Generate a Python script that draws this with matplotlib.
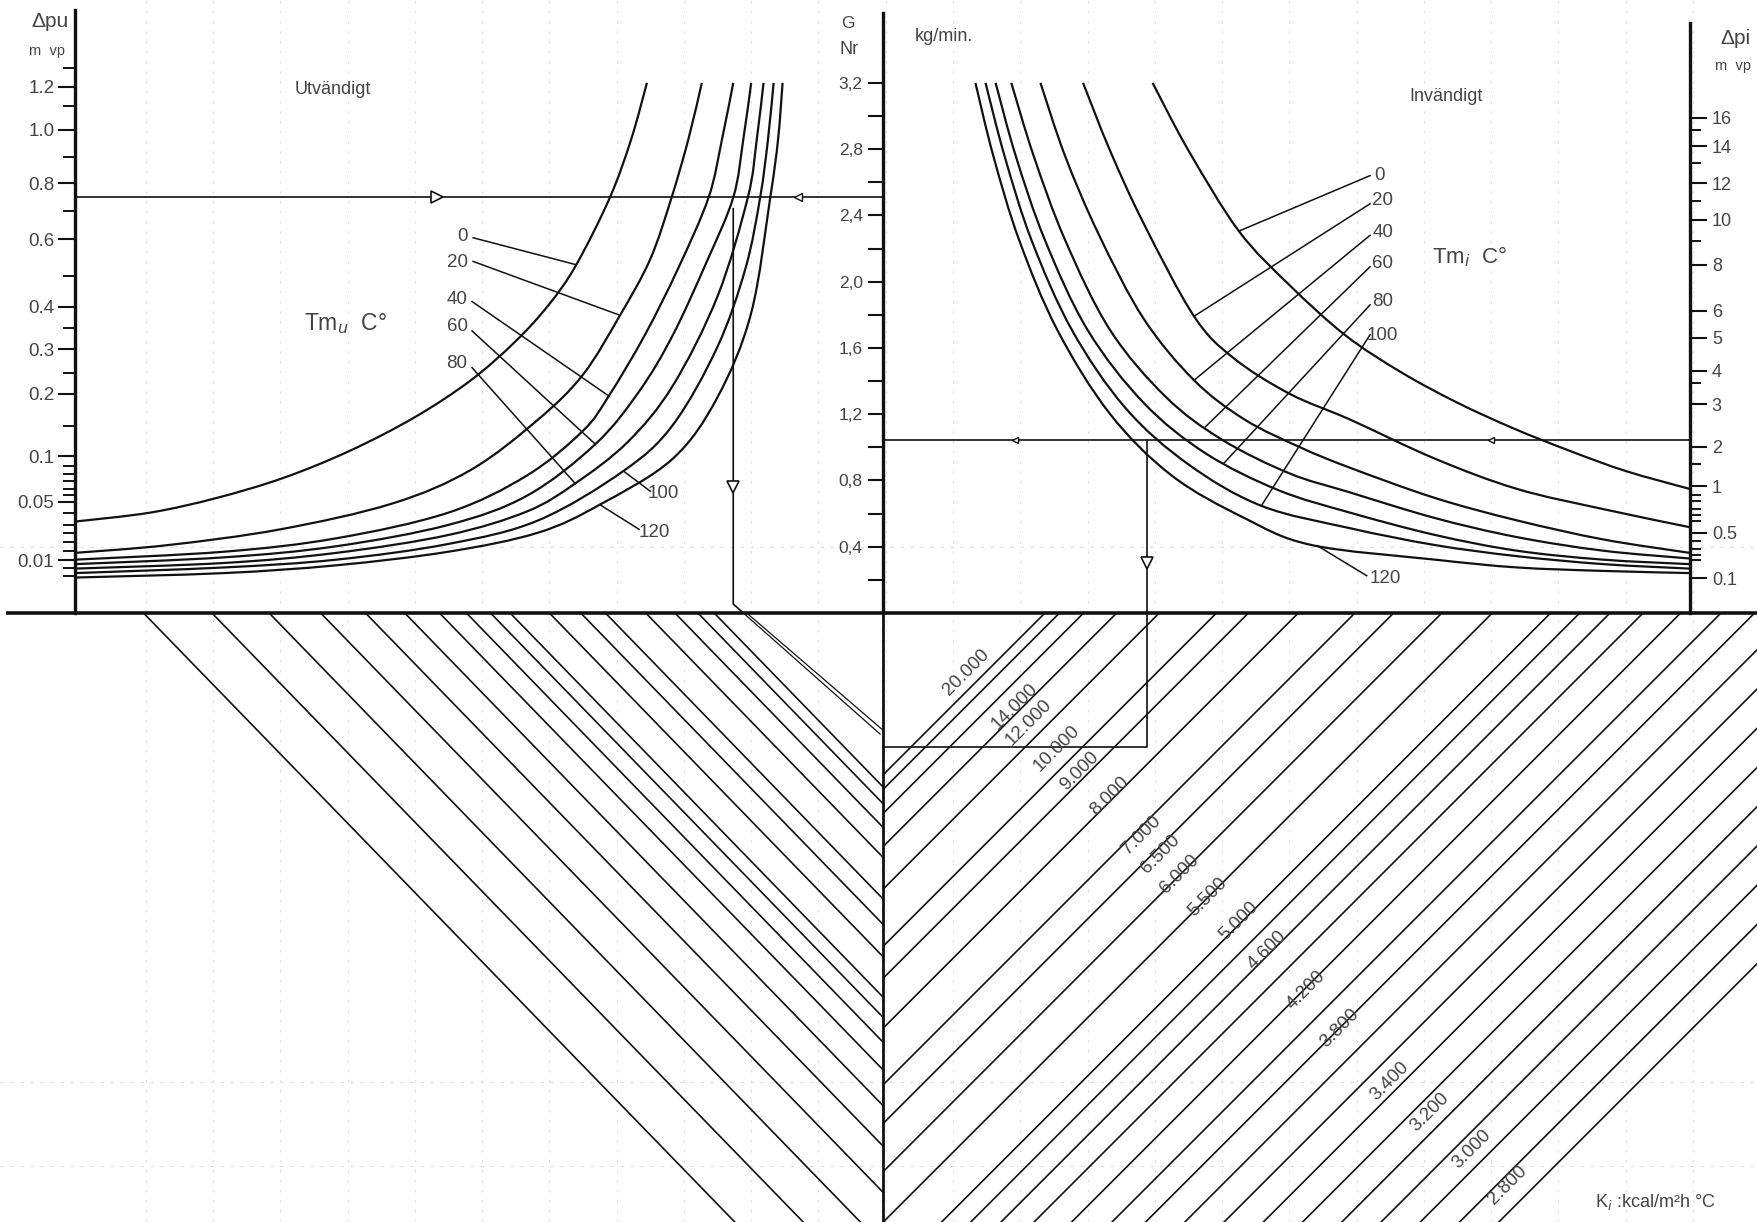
import numpy as np
import matplotlib
matplotlib.use("Agg")
import matplotlib.pyplot as plt
from matplotlib.path import Path
from matplotlib.patches import PathPatch
from matplotlib.ticker import FixedLocator, FixedFormatter, NullFormatter

plt.rcParams['font.family'] = ['Liberation Sans', 'DejaVu Sans']

# ---------------- data ----------------
# G axis (kg/min), linear
g_major = [0.4, 0.8, 1.2, 1.6, 2.0, 2.4, 2.8, 3.2]
g_major_labels = ['0,4', '0,8', '1,2', '1,6', '2,0', '2,4', '2,8', '3,2']
g_minor = [0.2, 0.6, 1.0, 1.4, 1.8, 2.2, 2.6, 3.0]

# Outer pressure drop scale (dpu, m vp) and the G level where each label sits
dpu_labels = ['1.2', '1.0', '0.8', '0.6', '0.4', '0.3', '0.2', '0.1', '0.05', '0.01']
dpu_at_g = [3.176, 2.918, 2.595, 2.257, 1.847, 1.593, 1.322, 0.947, 0.670, 0.317]
dpu_minor_at_g = [3.288, 3.061, 2.751, 2.429, 2.035, 1.72, 1.45, 1.129, 0.89, 0.842,
                  0.794, 0.747, 0.712, 0.604, 0.531, 0.484, 0.431, 0.377, 0.269, 0.221]

# Inner pressure drop scale (dpi, m vp)
dpi_labels = ['16', '14', '12', '10', '8', '6', '5', '4', '3', '2', '1', '0.5', '0.1']
dpi_at_g = [2.990, 2.818, 2.595, 2.374, 2.102, 1.823, 1.660, 1.462, 1.261, 1.002,
            0.766, 0.484, 0.211]
dpi_minor_at_g = [2.918, 2.716, 2.488, 2.245, 1.390, 0.902, 0.712, 0.676, 0.628, 0.591,
                  0.555, 0.436, 0.389, 0.352, 0.317]

# Outer curves Tm_u (C): abscissa and G
tmu = [0, 20, 40, 60, 80, 100, 120]
tmu_x = [
    [67, 134, 193, 253, 312, 370, 420, 460, 490, 514, 544, 563, 577],
    [67, 150, 250, 350, 420, 480, 520, 553, 580, 599, 614, 626],
    [67, 200, 300, 400, 470, 520, 543, 575, 605, 632, 644, 654],
    [67, 200, 300, 400, 470, 531, 570, 600, 630, 654, 663, 670],
    [67, 200, 300, 400, 470, 513, 560, 600, 640, 667, 675, 681],
    [67, 200, 300, 400, 480, 556, 600, 640, 665, 678, 685, 690],
    [67, 200, 300, 400, 480, 535, 600, 640, 670, 687, 694, 698],
]
tmu_g = [
    [0.552, 0.606, 0.694, 0.816, 0.979, 1.182, 1.405, 1.641, 1.865, 2.102, 2.508, 2.860, 3.2],
    [0.363, 0.410, 0.505, 0.661, 0.864, 1.168, 1.439, 1.797, 2.136, 2.508, 2.860, 3.2],
    [0.322, 0.370, 0.451, 0.606, 0.830, 1.100, 1.310, 1.676, 2.082, 2.508, 2.860, 3.2],
    [0.295, 0.336, 0.403, 0.532, 0.708, 1.019, 1.337, 1.676, 2.115, 2.508, 2.860, 3.2],
    [0.268, 0.302, 0.363, 0.471, 0.613, 0.782, 1.033, 1.371, 1.912, 2.508, 2.860, 3.2],
    [0.241, 0.275, 0.322, 0.417, 0.559, 0.857, 1.134, 1.608, 2.082, 2.508, 2.860, 3.2],
    [0.214, 0.241, 0.288, 0.370, 0.485, 0.654, 0.931, 1.303, 1.811, 2.508, 2.860, 3.2],
]

# Inner curves Tm_i (C)
tmi = [0, 20, 40, 60, 80, 100, 120]
tmi_x = [
    [1028, 1060, 1105, 1150, 1200, 1250, 1300, 1350, 1400, 1450, 1507],
    [966, 990, 1020, 1065, 1100, 1150, 1204, 1280, 1353, 1430, 1507],
    [928, 950, 980, 1020, 1065, 1110, 1160, 1204, 1280, 1353, 1430, 1507],
    [902, 922, 950, 990, 1040, 1090, 1150, 1204, 1280, 1353, 1430, 1507],
    [888, 906, 932, 970, 1020, 1075, 1140, 1204, 1280, 1353, 1430, 1507],
    [879, 896, 920, 956, 1004, 1060, 1125, 1204, 1280, 1353, 1430, 1507],
    [870, 886, 909, 943, 990, 1045, 1110, 1170, 1280, 1353, 1430, 1507],
]
tmi_g = [
    [3.2, 2.792, 2.305, 1.980, 1.676, 1.452, 1.269, 1.114, 0.979, 0.857, 0.749],
    [3.2, 2.792, 2.352, 1.791, 1.540, 1.324, 1.168, 0.931, 0.749, 0.627, 0.518],
    [3.2, 2.758, 2.285, 1.777, 1.405, 1.168, 0.999, 0.877, 0.694, 0.559, 0.444, 0.363],
    [3.2, 2.758, 2.251, 1.709, 1.303, 1.046, 0.843, 0.728, 0.573, 0.458, 0.376, 0.329],
    [3.2, 2.758, 2.251, 1.709, 1.269, 0.965, 0.742, 0.606, 0.471, 0.376, 0.322, 0.295],
    [3.2, 2.758, 2.251, 1.709, 1.236, 0.897, 0.647, 0.512, 0.410, 0.343, 0.295, 0.268],
    [3.2, 2.758, 2.251, 1.709, 1.202, 0.830, 0.573, 0.410, 0.322, 0.275, 0.254, 0.241],
]

# Lower-left family: where each line leaves the base line (abscissa)
outer_lines_x0 = [128, 189, 240, 286, 326, 361, 392, 416, 437.5, 455, 490, 518, 540,
                  576, 602, 622.5, 637]
# Lower-right K_i family: where each line meets the base line (abscissa)
ki_lines_x0 = [932, 945, 966.5, 996, 1034, 1085, 1113.5, 1158, 1208.5, 1243, 1286,
               1331, 1383, 1409, 1436, 1465.5, 1499, 1535, 1565, 1600, 1635, 1670,
               1705, 1740, 1775, 1810, 1845, 1880]
ki_labels = ['20.000', '14.000', '12.000', '10.000', '9.000', '8.000', '7.000', '6.500',
             '6.000', '5.500', '5.000', '4.600', '4.200', '3.800', '3.400', '3.200',
             '3.000', '2.800']
ki_label_xy = [(862, -53), (905, -83), (918, -98), (943, -121), (963, -141), (990, -163),
               (1018, -198), (1035, -215), (1052, -233), (1077, -253), (1105, -275),
               (1130, -301), (1165, -336), (1195, -370), (1240, -418), (1275, -445),
               (1313, -478), (1345, -510)]

# worked example
ex_g_outer = 2.508
ex_x_outer = 654
ex_g_inner = 1.046
ex_x_inner = 1023
ex_depth = 119.3

# ---------------- layout ----------------
X_LEFT, X_MID, X_RIGHT = 67, 788, 1507
XMAX = 1568.0
G_TOP = 3.70
BASE_FRAC = 609.0 / 1222.0
D_BOT = 609.0 / 1.1212
LEFT_SLOPE = 1.03

INK = '#111111'
TXT = '#444444'
PAPER = '#dcdcdc'

fig = plt.figure(figsize=(17.58, 12.22), dpi=100)
fig.patch.set_facecolor('white')

rect_top = [0, BASE_FRAC, 1, 1 - BASE_FRAC]
ax_u = fig.add_axes(rect_top)
ax_g = fig.add_axes(rect_top, label='g')
ax_i = fig.add_axes(rect_top, label='i')
ax_b = fig.add_axes([0, 0, 1, BASE_FRAC])

for a in (ax_u, ax_g, ax_i):
    a.set_xlim(0, XMAX)
    a.set_ylim(0, G_TOP)
    a.patch.set_visible(False)
    for s in a.spines.values():
        s.set_visible(False)
    a.xaxis.set_visible(False)
ax_b.set_xlim(0, XMAX)
ax_b.set_ylim(-D_BOT, 0)
ax_b.set_axis_off()

# faint graph-paper rulings of the scanned sheet
for gx in np.arange(130, 1530, 60):
    ax_u.plot([gx, gx], [0, G_TOP], color=PAPER, lw=0.8, ls=(0, (2, 7)), zorder=0)
    ax_b.plot([gx, gx], [-D_BOT, 0], color=PAPER, lw=0.8, ls=(0, (2, 7)), zorder=0)
ax_u.plot([0, XMAX], [0.4, 0.4], color=PAPER, lw=0.8, ls=(0, (3, 6)), zorder=0)
for gy in (-418, -493):
    ax_b.plot([0, XMAX], [gy, gy], color=PAPER, lw=0.8, ls=(0, (3, 6)), zorder=0)

# Left axis (dpu)
sp = ax_u.spines['left']
sp.set_visible(True)
sp.set_position(('data', X_LEFT))
sp.set_bounds(0, 3.64)
sp.set_linewidth(2.4)
sp.set_color(INK)
ax_u.yaxis.set_major_locator(FixedLocator(dpu_at_g))
ax_u.yaxis.set_major_formatter(FixedFormatter(dpu_labels))
ax_u.yaxis.set_minor_locator(FixedLocator(dpu_minor_at_g))
ax_u.yaxis.set_minor_formatter(NullFormatter())
ax_u.tick_params(axis='y', which='major', direction='out', length=12, width=1.5,
                 color=INK, labelsize=13.5, labelcolor=TXT, pad=3)
ax_u.tick_params(axis='y', which='minor', direction='out', length=9, width=1.4, color=INK)

# Middle axis (G)
sp = ax_g.spines['left']
sp.set_visible(True)
sp.set_position(('data', X_MID))
sp.set_bounds(0, 3.62)
sp.set_linewidth(2.4)
sp.set_color(INK)
ax_g.yaxis.set_major_locator(FixedLocator(g_major))
ax_g.yaxis.set_major_formatter(FixedFormatter(g_major_labels))
ax_g.yaxis.set_minor_locator(FixedLocator(g_minor))
ax_g.yaxis.set_minor_formatter(NullFormatter())
ax_g.tick_params(axis='y', which='both', direction='out', length=11, width=1.5,
                 color=INK, labelsize=12.5, labelcolor=TXT, pad=4)

# Right axis (dpi)
sp = ax_i.spines['right']
sp.set_visible(True)
sp.set_position(('data', X_RIGHT))
sp.set_bounds(0, 3.56)
sp.set_linewidth(2.4)
sp.set_color(INK)
ax_i.yaxis.tick_right()
ax_i.yaxis.set_major_locator(FixedLocator(dpi_at_g))
ax_i.yaxis.set_major_formatter(FixedFormatter(dpi_labels))
ax_i.yaxis.set_minor_locator(FixedLocator(dpi_minor_at_g))
ax_i.yaxis.set_minor_formatter(NullFormatter())
ax_i.tick_params(axis='y', which='major', direction='out', length=12, width=1.5,
                 color=INK, labelsize=13, labelcolor=TXT, pad=4)
ax_i.tick_params(axis='y', which='minor', direction='out', length=8, width=1.4, color=INK)

# base line
ax_u.plot([5, XMAX], [0, 0], color=INK, lw=2.6, clip_on=False, solid_capstyle='butt')
# middle axis below base line
ax_b.plot([X_MID, X_MID], [0, -D_BOT], color=INK, lw=2.0)


def smooth_curve(ax, xs, ys, **kw):
    P = np.column_stack([xs, ys]).astype(float)
    n = len(P)
    verts = [P[0]]
    codes = [Path.MOVETO]
    for i in range(n - 1):
        p0 = P[i - 1] if i > 0 else P[i]
        p1 = P[i]
        p2 = P[i + 1]
        p3 = P[i + 2] if i + 2 < n else P[i + 1]
        verts += [p1 + (p2 - p0) / 6.0, p2 - (p3 - p1) / 6.0, p2]
        codes += [Path.CURVE4] * 3
    ax.add_patch(PathPatch(Path(verts, codes), fill=False, **kw))


for xs, gs in zip(tmu_x, tmu_g):
    smooth_curve(ax_u, xs, gs, edgecolor=INK, lw=1.6)
for xs, gs in zip(tmi_x, tmi_g):
    smooth_curve(ax_u, xs, gs, edgecolor=INK, lw=1.6)

# labels of the Tm families with leaders
tmu_lab_xy = [(417, 2.271), (417, 2.115), (417, 1.892), (417, 1.730), (417, 1.506),
              (578, 0.721), (570, 0.485)]
tmu_leader_start = [(422, 2.265), (422, 2.122), (421, 1.880), (421, 1.703), (421, 1.481),
                    (580, 0.735), (570, 0.505)]
tmu_leader_x = [514, 553, 543, 531, 513, 556, 535]
for k, t in enumerate(tmu):
    lx, ly = tmu_lab_xy[k]
    ha = 'right' if k < 5 else 'left'
    ax_u.text(lx, ly, str(t), ha=ha, va='center', fontsize=13.5, color=TXT)
    tx = tmu_leader_x[k]
    ty = np.interp(tx, tmu_x[k], tmu_g[k])
    sx, sy = tmu_leader_start[k]
    ax_u.plot([sx, tx], [sy, ty], color=INK, lw=1.1)

tmi_lab_xy = [(1226, 2.643), (1224, 2.487), (1224, 2.298), (1224, 2.109), (1224, 1.878),
              (1219, 1.676), (1222, 0.207)]
tmi_leader_start = [(1222, 2.640), (1222, 2.470), (1222, 2.280), (1222, 2.090),
                    (1222, 1.860), (1222, 1.680), (1219, 0.225)]
tmi_leader_x = [1105, 1065, 1065, 1075, 1092, 1125, 1175]
for k, t in enumerate(tmi):
    lx, ly = tmi_lab_xy[k]
    ax_u.text(lx, ly, str(t), ha='left', va='center', fontsize=13.5, color=TXT)
    tx = tmi_leader_x[k]
    ty = np.interp(tx, tmi_x[k], tmi_g[k])
    sx, sy = tmi_leader_start[k]
    ax_u.plot([sx, tx], [sy, ty], color=INK, lw=1.1)

# lower-left lines (down to the middle axis)
for x0 in outer_lines_x0:
    ax_b.plot([x0, X_MID], [0, -LEFT_SLOPE * (X_MID - x0)], color=INK, lw=1.2)
# lower-right K_i lines (45 degrees up from the middle axis)
for x0 in ki_lines_x0:
    ax_b.plot([X_MID, x0], [-(x0 - X_MID), 0], color=INK, lw=1.2)
for lab, (lx, ly) in zip(ki_labels, ki_label_xy):
    ax_b.text(lx, ly, lab, rotation=45, ha='center', va='center', fontsize=13.5,
              color=TXT, rotation_mode='anchor')

# worked example
ax_u.plot([X_LEFT, X_MID], [ex_g_outer, ex_g_outer], color=INK, lw=1.2)
ax_u.plot([390], [ex_g_outer], marker='>', ms=8, mfc='white', mec=INK, mew=1.2)
ax_u.plot([712], [ex_g_outer], marker='<', ms=6, mfc='white', mec=INK, mew=1.0)
ax_u.plot([ex_x_outer, ex_x_outer, ex_x_outer + 9], [2.44, 0.054, 0.0],
          color=INK, lw=1.2)
ax_u.plot([ex_x_outer], [0.76], marker='v', ms=8, mfc='white', mec=INK, mew=1.2)
ax_b.plot([ex_x_outer + 9, X_MID - 3], [0, -108], color=INK, lw=0.9)
ax_b.plot([ex_x_outer + 12, X_MID - 1], [0, -104], color=INK, lw=0.9)

ax_u.plot([X_MID, X_RIGHT], [ex_g_inner, ex_g_inner], color=INK, lw=1.2)
ax_u.plot([905, 1330], [ex_g_inner, ex_g_inner], ls='none', marker='<', ms=5,
          mfc='white', mec=INK, mew=1.0)
ax_u.plot([ex_x_inner, ex_x_inner], [ex_g_inner, 0], color=INK, lw=1.2)
ax_u.plot([ex_x_inner], [0.30], marker='v', ms=8, mfc='white', mec=INK, mew=1.2)
ax_b.plot([ex_x_inner, ex_x_inner, X_MID], [0, -ex_depth, -ex_depth], color=INK, lw=1.2)

# texts
ax_u.text(45, 3.57, 'Δpu', fontsize=15, color=TXT, ha='center', va='center')
ax_u.text(42, 3.39, 'm  vp', fontsize=10.5, color=TXT, ha='center', va='center')
ax_u.text(1548, 3.47, 'Δpi', fontsize=15, color=TXT, ha='center', va='center')
ax_u.text(1546, 3.30, 'm  vp', fontsize=10.5, color=TXT, ha='center', va='center')
ax_u.text(756, 3.56, 'G', fontsize=12.5, color=TXT, ha='center', va='center')
ax_u.text(757, 3.40, 'Nr', fontsize=13, color=TXT, ha='center', va='center')
ax_u.text(816, 3.48, 'kg/min.', fontsize=13, color=TXT, ha='left', va='center')
ax_u.text(297, 3.16, 'Utvändigt', fontsize=13, color=TXT, ha='center', va='center')
ax_u.text(1290, 3.12, 'Invändigt', fontsize=13, color=TXT, ha='center', va='center')
ax_u.text(308, 1.745, r'Tm$_u$  C°', fontsize=16.5, color=TXT, ha='center', va='center')
ax_u.text(1311, 2.15, r'Tm$_i$  C°', fontsize=16, color=TXT, ha='center', va='center')
ax_b.text(1423, -525, r'K$_i$ :kcal/m²h °C', fontsize=13, color=TXT, ha='left', va='center')

fig.savefig('out.png', dpi=100, facecolor='white')
